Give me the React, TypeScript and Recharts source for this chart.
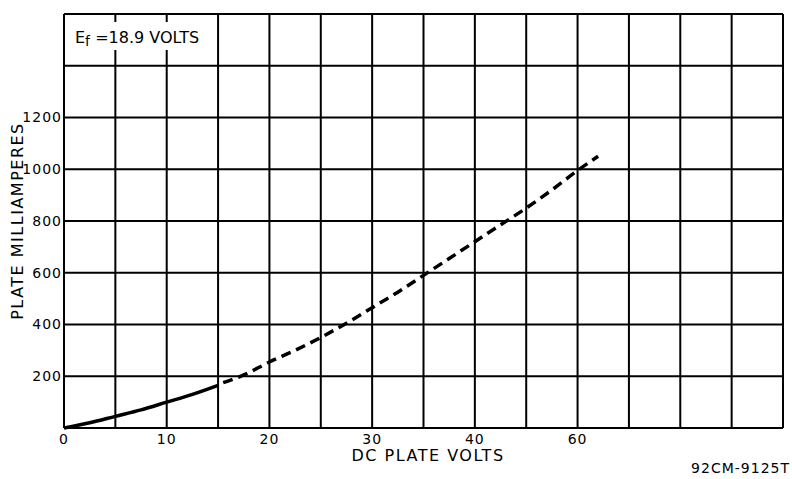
import { LineChart, Line, XAxis, YAxis, CartesianGrid } from 'recharts'

// measured portion (solid) and extrapolated portion (dashed)
const solidVolts = [0, 2.5, 5, 7.5, 10, 12.5, 15]
const solidMa = [0, 20, 45, 70, 100, 130, 165]
const dashVolts = [15.5, 17.5, 20, 22.5, 25, 27.5, 30, 32.5, 35, 37.5, 40, 42.5, 45, 47.5, 50, 52]
const dashMa = [175, 205, 255, 300, 350, 405, 465, 525, 590, 655, 720, 785, 850, 920, 995, 1050]

const xTicks = [0, 5, 10, 15, 20, 25, 30, 35, 40, 45, 50, 55, 60, 65, 70]
const xLabels: Record<number, string> = { 0: '0', 10: '10', 20: '20', 30: '30', 40: '40', 50: '60' }
const yTicks = [0, 200, 400, 600, 800, 1000, 1200, 1400, 1600]
const yLabels: Record<number, string> = { 200: '200', 400: '400', 600: '600', 800: '800', 1000: '1000', 1200: '1200' }

const data = [
  ...solidVolts.map((v, i) => ({ v, solid: solidMa[i] as number | null, dashed: null as number | null })),
  ...dashVolts.map((v, i) => ({ v, solid: null as number | null, dashed: dashMa[i] as number | null })),
]

const font = '"DejaVu Sans", sans-serif'
const tickStyle = { fontSize: 14, fill: '#000', fontFamily: font, letterSpacing: 1 }

export default function App() {
  return (
    <div style={{ position: 'absolute', left: 0, top: 0, width: 792, height: 479, background: '#fff', fontFamily: font }}>
      <LineChart width={792} height={479} data={data} margin={{ top: 14, right: 9, left: 0, bottom: 21 }}>
        <CartesianGrid stroke="#000" strokeWidth={2} />
        <XAxis
          dataKey="v" type="number" domain={[0, 70]} ticks={xTicks}
          tickFormatter={(t: number) => xLabels[t] ?? ''}
          axisLine={false} tickLine={false} tickSize={0} tickMargin={6} height={30}
          tick={tickStyle}
        />
        <YAxis
          type="number" domain={[0, 1600]} ticks={yTicks}
          tickFormatter={(t: number) => yLabels[t] ?? ''}
          axisLine={false} tickLine={false} tickSize={0} tickMargin={2} width={64}
          tick={tickStyle}
        />
        <Line type="monotone" dataKey="solid" stroke="#000" strokeWidth={3.5} dot={false} connectNulls={false} isAnimationActive={false} />
        <Line type="monotone" dataKey="dashed" stroke="#000" strokeWidth={3.5} strokeDasharray="10 6" dot={false} connectNulls={false} isAnimationActive={false} />
      </LineChart>
      <svg width={792} height={479} style={{ position: 'absolute', left: 0, top: 0, pointerEvents: 'none' }}>
        <rect x={72} y={22} width={142} height={28} fill="#fff" />
        <text x={75} y={43} fontSize={16} fontFamily={font} fill="#000">
          E<tspan fontSize={14} dy={3}>f</tspan><tspan dy={-3}> =18.9 VOLTS</tspan>
        </text>
        <rect x={64} y={22} width={8} height={28} fill="#fff" opacity={0} />
        <text x={18} y={221} transform="rotate(-90 18 221)" textAnchor="middle" dominantBaseline="middle"
          fontSize={16} letterSpacing={1.5} fontFamily={font} fill="#000">PLATE MILLIAMPERES</text>
        <text x={428} y={461} textAnchor="middle" fontSize={16} letterSpacing={1.5} fontFamily={font} fill="#000">DC PLATE VOLTS</text>
        <text x={790} y={473} textAnchor="end" fontSize={14} letterSpacing={1} fontFamily={font} fill="#000">92CM-9125T</text>
      </svg>
    </div>
  )
}
